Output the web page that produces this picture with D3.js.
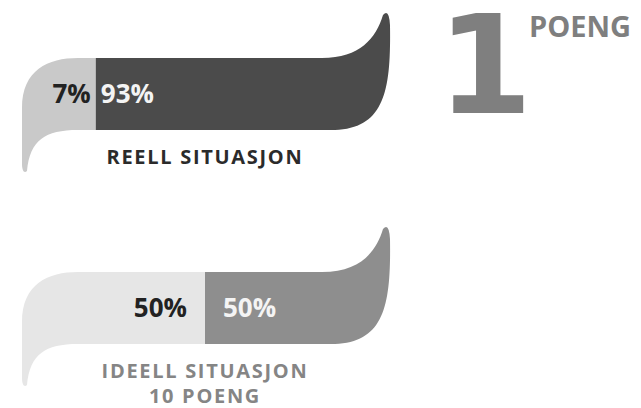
<!DOCTYPE html>
<html>
<head>
<meta charset="utf-8">
<script src="https://cdn.jsdelivr.net/npm/d3@7"></script>
<style>
  html, body { margin: 0; padding: 0; background: #fff; }
  svg { display: block; }
</style>
</head>
<body>
<svg id="chart" width="641" height="408"></svg>
<script>
// Two scenarios, each split into a left share and a right share (percent)
const scenarios   = ["REELL SITUASJON", "IDEELL SITUASJON"];
const leftShare   = [7, 50];
const rightShare  = [93, 50];
const subCaption  = ["", "10 POENG"];
const leftFill    = ["#c9c9c9", "#e6e6e6"];
const rightFill   = ["#4b4b4b", "#8e8e8e"];
const captionFill = ["#2b2b2b", "#858585"];
const scoreValue  = "1";
const scoreUnit   = "POENG";

const rows = scenarios.map((name, i) => ({
  name, a: leftShare[i], b: rightShare[i], sub: subCaption[i],
  lf: leftFill[i], rf: rightFill[i], cf: captionFill[i]
}));

const svg = d3.select("#chart");
const font = "'Open Sans', 'DejaVu Sans', sans-serif";

const x = d3.scaleLinear().domain([0, 100]).range([78, 332]);
const y = d3.scaleBand().domain(scenarios).range([58, 344]).paddingInner(0.664);
const x0 = x(0), x1 = x(100);

// Left segment with its downward tail
function leftPath(d) {
  const top = y(d.name), bot = top + y.bandwidth(), s = x(d.a);
  const L = x0 - 56;
  const p = d3.path();
  p.moveTo(s, top);
  p.lineTo(x0, top);
  p.bezierCurveTo(x0 - 30, top, L, top + 12, L, top + 50);
  p.lineTo(L, bot + 34);
  p.bezierCurveTo(L, bot + 40, L + 2, bot + 44, L + 5, bot + 41);
  p.bezierCurveTo(L + 8, bot + 10, x0 - 33, bot, x0, bot);
  p.lineTo(s, bot);
  p.closePath();
  return p.toString();
}

// Right segment with its upward curl
function rightPath(d) {
  const top = y(d.name), bot = top + y.bandwidth(), s = x(d.a);
  const p = d3.path();
  p.moveTo(s, top);
  p.lineTo(x1 - 10, top);
  p.bezierCurveTo(x1 + 28, top, x1 + 44, top - 20, x1 + 51, top - 43);
  p.quadraticCurveTo(x1 + 57, top - 50, x1 + 58, top - 33);
  p.bezierCurveTo(x1 + 59, top + 32, x1 + 53, bot - 2, x1 + 3, bot);
  p.lineTo(s, bot);
  p.closePath();
  return p.toString();
}

const g = svg.selectAll("g.row").data(rows).join("g").attr("class", "row");

g.append("path").attr("d", leftPath).attr("fill", d => d.lf);
g.append("path").attr("d", rightPath).attr("fill", d => d.rf);

const gap = d => Math.min(d.a, d.b) < 15 ? 5 : 18;
const midY = d => y(d.name) + y.bandwidth() / 2 + 9;

g.append("text")
  .attr("x", d => x(d.a) - gap(d))
  .attr("y", midY)
  .attr("text-anchor", "end")
  .attr("font-family", font).attr("font-weight", 700).attr("font-size", 26)
  .attr("fill", "#222")
  .text(d => d.a + "%");

g.append("text")
  .attr("x", d => x(d.a) + gap(d))
  .attr("y", midY)
  .attr("font-family", font).attr("font-weight", 700).attr("font-size", 26)
  .attr("fill", "#f4f4f4")
  .text(d => d.b + "%");

const cap = g.append("text")
  .attr("text-anchor", "middle")
  .attr("font-family", font).attr("font-weight", 700).attr("font-size", 20)
  .attr("letter-spacing", 1.7)
  .attr("fill", d => d.cf);

cap.append("tspan")
  .attr("x", (x0 + x1) / 2)
  .attr("y", d => y(d.name) + y.bandwidth() + 34)
  .text(d => d.name);

cap.filter(d => d.sub).append("tspan")
  .attr("x", (x0 + x1) / 2)
  .attr("dy", 25)
  .text(d => d.sub);

// Score marker
svg.append("text")
  .attr("x", 485).attr("y", 113)
  .attr("text-anchor", "middle")
  .attr("font-family", "'DejaVu Sans', sans-serif").attr("font-weight", 700)
  .attr("font-size", 137)
  .attr("fill", "#7f7f7f")
  .text(scoreValue);

svg.append("text")
  .attr("x", 529).attr("y", 37)
  .attr("font-family", font).attr("font-weight", 700).attr("font-size", 29)
  .attr("fill", "#7f7f7f")
  .text(scoreUnit);
</script>
</body>
</html>
